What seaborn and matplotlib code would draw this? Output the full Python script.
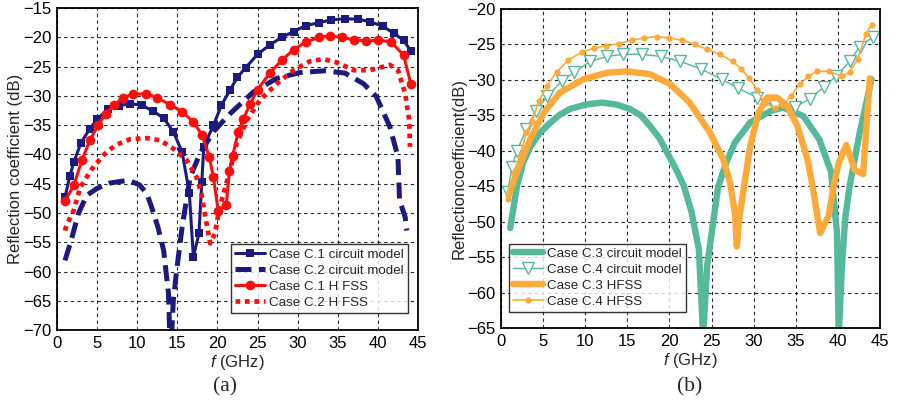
import numpy as np
import pandas as pd
import matplotlib
matplotlib.use("Agg")
import matplotlib.pyplot as plt
import seaborn as sns

# ---------------- (a) Cases C.1 / C.2 ----------------
f_c1_circ = [1.0, 1.6, 2.1, 3.0, 4.1, 5.0, 6.4, 7.7, 9.1, 10.6, 12.0, 13.3, 14.5, 15.6,
             16.5, 17.0, 17.7, 18.05, 18.3, 19.5, 20.5, 21.6, 22.5, 23.5, 25.0, 26.5,
             28.0, 29.5, 31.0, 32.6, 34.2, 35.9, 37.5, 39.0, 40.6, 42.0, 43.2, 44.1]
s_c1_circ = [-47.3, -43.7, -41.3, -38.0, -35.6, -34.0, -32.2, -31.7, -31.3, -31.6, -32.6,
             -33.8, -36.1, -39.6, -46.6, -57.5, -53.5, -44.7, -38.7, -35.0, -31.6, -28.9,
             -26.8, -25.2, -22.9, -21.3, -20.0, -19.0, -18.0, -17.5, -17.0, -16.8, -16.9,
             -17.3, -18.1, -19.3, -20.5, -22.3]

f_c2_circ = [1.0, 1.7, 2.7, 3.7, 5.0, 6.5, 8.9, 10.3, 11.2, 11.8, 12.6, 13.3, 13.9, 14.15,
             14.5, 14.9, 15.6, 16.6, 17.8, 19.5, 21.6, 24.5, 27.4, 30.3, 33.4, 35.9, 38.2,
             39.8, 41.5, 42.5, 42.7, 43.4, 43.6]
s_c2_circ = [-58.1, -55.0, -50.0, -47.0, -45.8, -44.9, -44.4, -45.2, -46.7, -49.0, -52.5,
             -56.4, -63.8, -75.0, -65.0, -60.0, -52.4, -43.9, -39.9, -36.1, -33.0, -29.3,
             -27.0, -26.0, -25.7, -26.1, -27.9, -30.1, -35.3, -40.4, -47.8, -50.7, -53.0]

f_c1_hfss = [1.0, 2.1, 3.1, 4.1, 5.1, 6.1, 7.1, 8.2, 9.5, 11.1, 12.5, 14.1, 15.6, 17.0,
             18.1, 19.0, 19.5, 20.1, 21.1, 21.5, 21.9, 22.6, 23.2, 24.1, 25.0, 26.6, 28.0,
             29.5, 31.0, 32.6, 34.0, 35.5, 37.0, 38.5, 40.0, 41.6, 43.2, 44.1]
s_c1_hfss = [-47.9, -45.3, -41.0, -37.6, -35.0, -33.0, -31.6, -30.3, -29.7, -29.6, -30.3,
             -31.5, -32.7, -34.4, -36.7, -40.5, -43.9, -49.6, -48.6, -42.8, -40.2, -36.1,
             -34.0, -31.3, -28.9, -26.0, -23.9, -22.1, -20.8, -20.0, -19.7, -20.0, -20.4,
             -20.6, -20.5, -20.7, -23.0, -27.9]

f_c2_hfss = [1.0, 1.2, 2.1, 2.9, 4.4, 5.8, 7.3, 9.1, 11.2, 12.9, 14.5, 16.2, 17.4, 18.0,
             18.5, 19.1, 19.7, 20.2, 21.0, 21.6, 22.4, 23.7, 25.3, 27.4, 29.5, 31.5, 33.2,
             34.9, 37.0, 39.0, 41.5, 42.5, 43.4, 43.9, 44.0]
s_c2_hfss = [-53.0, -52.1, -49.5, -45.6, -42.4, -40.1, -38.4, -37.4, -37.2, -37.6, -39.0,
             -41.0, -43.9, -46.7, -50.7, -55.2, -53.5, -49.5, -45.5, -42.6, -38.1, -34.1,
             -30.7, -27.9, -25.6, -24.1, -23.7, -24.3, -25.6, -25.6, -24.7, -25.6, -29.6,
             -34.1, -38.7]

# ---------------- (b) Cases C.3 / C.4 ----------------
f_c3_circ = [1.1, 1.9, 2.6, 3.5, 4.6, 5.8, 7.0, 8.2, 10.0, 12.0, 13.8, 15.3, 16.6, 17.7,
             18.8, 19.7, 20.7, 21.7, 22.6, 23.5, 24.0, 24.5, 25.3, 25.8, 26.8, 27.8, 29.6,
             32.0, 33.5, 35.9, 37.8, 39.2, 39.9, 40.1, 40.5, 40.9, 41.4, 42.6, 44.0]
s_c3_circ = [-50.9, -45.0, -41.8, -39.4, -37.5, -36.1, -34.9, -34.1, -33.5, -33.2, -33.5,
             -34.1, -35.0, -36.5, -38.2, -40.2, -42.4, -44.9, -48.5, -53.9, -66.0, -56.0,
             -49.2, -45.0, -41.5, -38.8, -36.0, -34.4, -33.9, -35.1, -38.4, -43.0, -51.6,
             -66.0, -56.0, -49.2, -45.0, -37.4, -29.9]

f_c4_circ = [0.8, 1.3, 1.9, 3.0, 4.1, 5.5, 7.2, 8.7, 10.6, 12.6, 14.5, 16.7, 19.0, 21.3,
             23.8, 26.2, 28.2, 30.4, 32.5, 34.9, 36.7, 38.3, 39.8, 41.4, 42.6, 44.2]
s_c4_circ = [-45.8, -42.3, -40.0, -37.0, -34.4, -32.3, -30.2, -28.9, -27.4, -26.7, -26.4,
             -26.4, -26.7, -27.4, -28.5, -29.9, -31.2, -32.5, -33.7, -33.8, -32.7, -31.0,
             -29.5, -27.4, -25.3, -23.9]

f_c3_hfss = [0.9, 1.9, 3.5, 5.1, 7.0, 9.8, 12.6, 14.9, 17.7, 20.1, 22.4, 24.8, 26.4, 27.2,
             27.8, 28.0, 28.3, 28.8, 29.6, 30.6, 31.6, 32.8, 34.0, 35.2, 36.4, 37.0, 37.9,
             38.9, 39.5, 40.1, 41.0, 42.0, 43.0, 43.8]
s_c3_hfss = [-46.3, -43.0, -38.3, -34.6, -31.8, -29.9, -29.0, -28.8, -29.2, -30.6, -33.2,
             -37.4, -41.2, -44.5, -49.0, -53.5, -49.5, -45.5, -39.3, -34.6, -32.5, -32.5,
             -33.7, -36.5, -41.2, -45.0, -51.6, -49.2, -45.0, -41.7, -39.2, -42.7, -43.3,
             -29.8]

f_c4_hfss = [0.8, 1.5, 2.3, 3.0, 3.7, 4.5, 5.5, 6.6, 8.0, 9.6, 11.1, 12.5, 14.0, 15.5,
             17.0, 18.5, 20.0, 21.5, 23.0, 24.5, 26.0, 27.5, 28.5, 29.5, 30.4, 31.3, 32.5,
             33.5, 34.4, 35.5, 36.5, 37.5, 38.9, 40.5, 41.4, 42.4, 43.3, 44.0]
s_c4_hfss = [-46.8, -43.3, -40.7, -37.4, -35.8, -33.0, -30.8, -28.9, -27.2, -26.1, -25.5,
             -25.2, -24.9, -24.4, -24.1, -23.9, -24.1, -24.4, -25.0, -25.7, -26.4, -27.4,
             -28.4, -29.8, -31.4, -33.3, -33.9, -33.6, -32.3, -30.6, -29.5, -28.8, -28.8,
             -29.5, -28.9, -27.0, -23.6, -22.2]

NAVY = "#1c1a7e"
RED = "#ff0d0d"
TEAL = "#55b99c"
ORANGE = "#fdaa3a"

sns.set_theme(style="white")
plt.rcParams["font.family"] = ["Liberation Sans", "DejaVu Sans"]
plt.rcParams["mathtext.fontset"] = "custom"
plt.rcParams["mathtext.it"] = "Liberation Sans:italic"
plt.rcParams["mathtext.rm"] = "Liberation Sans"

fig = plt.figure(figsize=(8.97, 4.07), dpi=100)
ax1 = fig.add_axes([0.0635, 0.189, 0.4025, 0.791])
ax2 = fig.add_axes([0.5585, 0.194, 0.4225, 0.784])


def draw(ax, f, s, **kw):
    df = pd.DataFrame({"f": f, "s": s})
    sns.lineplot(data=df, x="f", y="s", ax=ax, sort=False, estimator=None,
                 legend=False, **kw)


draw(ax1, f_c1_circ, s_c1_circ, color=NAVY, lw=2.2, marker="s", markersize=5.5,
     markeredgewidth=0, label="Case C.1 circuit model")
draw(ax1, f_c2_circ, s_c2_circ, color=NAVY, lw=3.6, linestyle=(0, (3.2, 1.5)),
     label="Case C.2 circuit model")
draw(ax1, f_c1_hfss, s_c1_hfss, color=RED, lw=2.2, marker="o", markersize=7,
     markeredgewidth=0, label="Case C.1 H FSS")
draw(ax1, f_c2_hfss, s_c2_hfss, color=RED, lw=3.4, linestyle=(0, (1, 1)),
     label="Case C.2 H FSS")

draw(ax2, f_c3_circ, s_c3_circ, color=TEAL, lw=4.6,
     label="Case C.3 circuit model")
draw(ax2, f_c4_circ, s_c4_circ, color=TEAL, lw=1.0, marker="v", markersize=9,
     markerfacecolor="white", markeredgecolor=TEAL, markeredgewidth=1.0,
     label="Case C.4 circuit model")
draw(ax2, f_c3_hfss, s_c3_hfss, color=ORANGE, lw=4.6, label="Case C.3 HFSS")
draw(ax2, f_c4_hfss, s_c4_hfss, color=ORANGE, lw=1.2, marker="o", markersize=4.5,
     markeredgewidth=0, label="Case C.4 HFSS")

for ax, ylim, ylabel in [(ax1, (-70, -15), "Reflection coefficient (dB)"),
                         (ax2, (-65, -20), "Reflectioncoefficient(dB)")]:
    ax.set_xlim(0, 45)
    ax.set_ylim(*ylim)
    ax.set_xticks(np.arange(0, 46, 5))
    ax.set_yticks(np.arange(ylim[0], ylim[1] + 1, 5))
    ax.grid(True, color="black", linestyle=(0, (3, 3)), linewidth=0.8, alpha=0.85)
    ax.tick_params(direction="in", length=3, width=0.8, labelsize=12,
                   colors="black", pad=4)
    for sp in ax.spines.values():
        sp.set_color("black")
        sp.set_linewidth(1.3)
    ax.set_xlabel(r"$\it{f}$ (GHz)", fontsize=12, labelpad=2)
    ax.set_ylabel(ylabel, fontsize=12, labelpad=0)
    ax.set_facecolor("white")

leg_kw = dict(fontsize=9.6, frameon=True, fancybox=False, edgecolor="black",
              handlelength=2.25, borderpad=0.3, labelspacing=0.28,
              handletextpad=0.3, borderaxespad=0.0)
leg1 = ax1.legend(loc="lower right", bbox_to_anchor=(0.972, 0.053), **leg_kw)
leg1.get_frame().set_linewidth(1.0)
leg2 = ax2.legend(loc="lower left", bbox_to_anchor=(0.021, 0.05), **leg_kw)
leg2.get_frame().set_linewidth(1.0)

fig.text(225 / 897, 1 - 387 / 407, "(a)", ha="center", va="center",
         fontsize=15.5, family="Liberation Serif")
fig.text(690 / 897, 1 - 387 / 407, "(b)", ha="center", va="center",
         fontsize=15.5, family="Liberation Serif")

fig.savefig("out.png", dpi=100, facecolor="white")
